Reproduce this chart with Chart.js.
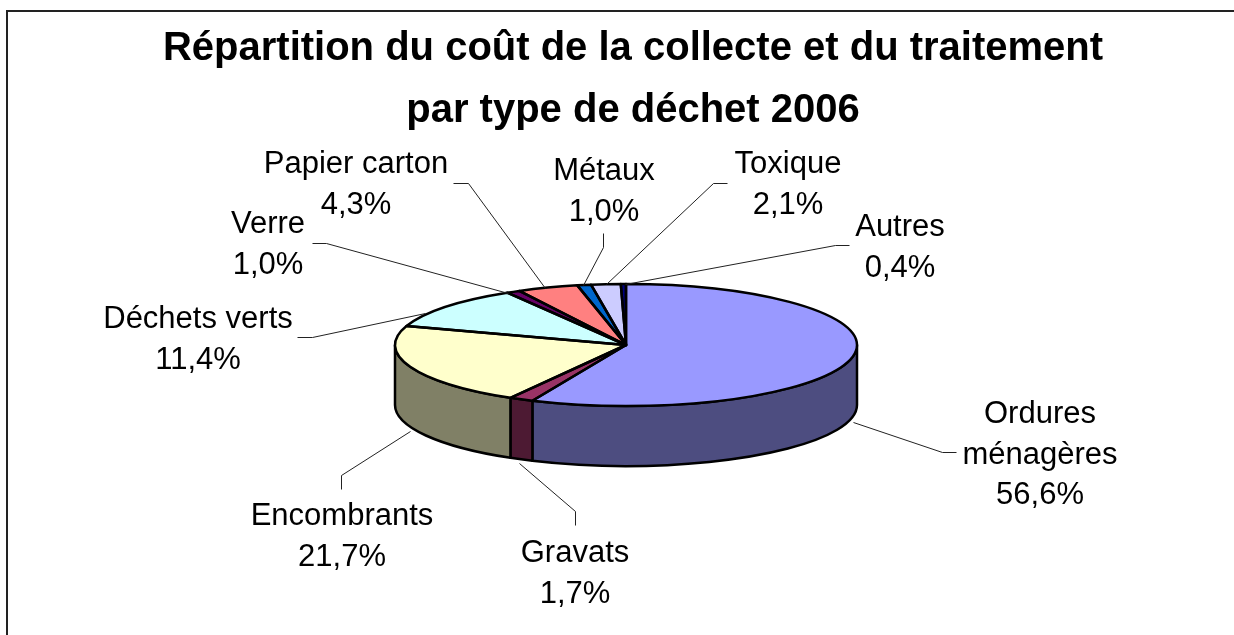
<!DOCTYPE html>
<html lang="fr">
<head>
<meta charset="utf-8">
<title>Répartition du coût</title>
<style>html,body{margin:0;padding:0;background:#fff}canvas{display:block}</style>
<script src="https://cdn.jsdelivr.net/npm/chart.js@4"></script>
</head>
<body>
<canvas id="c" width="1234" height="635"></canvas>
<script>
const titleLines = ["Répartition du coût de la collecte et du traitement", "par type de déchet 2006"];
const categories = ["Ordures ménagères", "Gravats", "Encombrants", "Déchets verts", "Verre", "Papier carton", "Métaux", "Toxique", "Autres"];
const values = [56.64, 1.7, 21.7, 11.36, 0.96, 4.26, 0.96, 2.06, 0.36];
const topColours = ["#9999FF", "#993366", "#FFFFCC", "#CCFFFF", "#660066", "#FF8080", "#0066CC", "#CCCCFF", "#000080"];
const wallColours = ["#4D4D80", "#4D1A33", "#808066", "#668080", "#330033", "#804040", "#003366", "#666680", "#000040"];

// Page layout of the pie projection and of the labels (not data)
const PIE = { cx: 626, cy: 345, rx: 231, ry: 61, depth: 60 };
const labelLayout = [
  { lines: ["Ordures", "ménagères"], x: 1040, y: 423, leader: [[956,452],[942,452],[853,422]] },
  { lines: ["Gravats"], x: 575, y: 562, leader: [[575,525],[575,511],[519,463]] },
  { lines: ["Encombrants"], x: 342, y: 525, leader: [[341,489],[341,475],[410,431]] },
  { lines: ["Déchets verts"], x: 198, y: 328, leader: [[297,337],[312,337],[425,313]] },
  { lines: ["Verre"], x: 268, y: 233, leader: [[312,243],[326,243],[508,293]] },
  { lines: ["Papier carton"], x: 356, y: 173, leader: [[453,183],[468,183],[545,288]] },
  { lines: ["Métaux"], x: 604, y: 180, leader: [[603,233],[603,247],[583,285]] },
  { lines: ["Toxique"], x: 788, y: 173, leader: [[727,183],[713,183],[606,284]] },
  { lines: ["Autres"], x: 900, y: 236, leader: [[849,245],[835,245],[625,284]] }
];
const LABEL_FONT = '31px "Liberation Sans", Arial, sans-serif';
const LABEL_LEADING = 40.5;

const pct = v => v.toFixed(1).replace('.', ',') + '%';

const framePlugin = {
  id: 'frame',
  beforeDraw(chart) {
    const c = chart.ctx;
    c.save();
    c.fillStyle = '#fff';
    c.fillRect(0, 0, chart.width, chart.height);
    c.strokeStyle = '#222';
    c.lineWidth = 2;
    c.strokeRect(7, 11, 1300, 700);
    c.restore();
  }
};

const pie3dPlugin = {
  id: 'pie3d',
  beforeDatasetsDraw(chart) {
    const c = chart.ctx, arcs = chart.getDatasetMeta(0).data;
    const { cx, cy, rx, ry, depth } = PIE;
    arcs.forEach((a, i) => {
      const s = Math.max(a.startAngle, 0), e = Math.min(a.endAngle, Math.PI);
      if (e <= s) return;
      c.beginPath();
      c.ellipse(cx, cy, rx, ry, 0, s, e);
      c.ellipse(cx, cy + depth, rx, ry, 0, e, s, true);
      c.closePath();
      c.fillStyle = wallColours[i];
      c.fill();
      c.strokeStyle = '#000';
      c.lineWidth = 2.5;
      c.lineJoin = 'round';
      c.stroke();
    });
    c.save();
    const o = arcs[0];
    c.translate(cx, cy);
    c.scale(1, ry / rx);
    c.translate(-o.x, -o.y);
  },
  afterDatasetsDraw(chart) {
    const c = chart.ctx, arcs = chart.getDatasetMeta(0).data;
    c.restore();
    const { cx, cy, rx, ry } = PIE;
    c.save();
    c.strokeStyle = '#000';
    c.lineWidth = 2.5;
    c.lineJoin = 'round';
    arcs.forEach(a => {
      c.beginPath();
      c.moveTo(cx, cy);
      c.ellipse(cx, cy, rx, ry, 0, a.startAngle, a.endAngle);
      c.closePath();
      c.stroke();
    });
    c.restore();
  },
  afterDraw(chart) {
    const c = chart.ctx;
    c.save();
    c.strokeStyle = '#222';
    c.lineWidth = 1;
    labelLayout.forEach(l => {
      c.beginPath();
      l.leader.forEach((p, k) => k ? c.lineTo(p[0] + .5, p[1] + .5) : c.moveTo(p[0] + .5, p[1] + .5));
      c.stroke();
    });
    c.fillStyle = '#000';
    c.font = LABEL_FONT;
    c.textAlign = 'center';
    c.textBaseline = 'alphabetic';
    labelLayout.forEach((l, i) => {
      const rows = l.lines.concat(pct(values[i]));
      rows.forEach((t, k) => c.fillText(t, l.x, l.y + k * LABEL_LEADING));
    });
    c.restore();
  }
};

new Chart(document.getElementById('c'), {
  type: 'pie',
  data: {
    labels: categories,
    datasets: [{
      data: values,
      backgroundColor: topColours,
      borderWidth: 0,
      radius: PIE.rx,
      clip: false
    }]
  },
  options: {
    responsive: false,
    animation: false,
    layout: { padding: { left: 32, right: 0, top: 0, bottom: 0 } },
    plugins: {
      legend: { display: false },
      tooltip: { enabled: false },
      title: {
        display: true,
        text: titleLines,
        color: '#000',
        font: { family: '"Liberation Sans", Arial, sans-serif', size: 40, weight: 'bold', lineHeight: 1.55 },
        padding: { top: 18, bottom: 10 }
      }
    }
  },
  plugins: [framePlugin, pie3dPlugin]
});
</script>
</body>
</html>
